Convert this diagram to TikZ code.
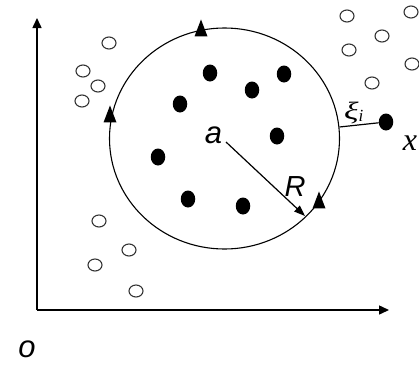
\documentclass[tikz,border=0pt]{standalone}
\usepackage{fontspec}
\setmainfont{Liberation Sans}
\newfontfamily\seriffam{Liberation Serif}
\usetikzlibrary{arrows.meta,shapes.geometric}
\begin{document}
\begin{tikzpicture}[x=1pt,y=-1pt,
  fdot/.style={ellipse,fill=black,inner sep=0pt,minimum width=14.5pt,minimum height=17pt},
  odot/.style={ellipse,draw=black!80,line width=1.1pt,inner sep=0pt,minimum width=14pt,minimum height=12pt},
  tri/.style={isosceles triangle,isosceles triangle stretches=true,shape border rotate=90,fill=black,inner sep=0pt,minimum width=13pt,minimum height=17pt},
  lbl/.style={font=\fontsize{31}{31}\selectfont\itshape,inner sep=0pt,anchor=base},
  axis/.style={line width=1.5pt,-{Triangle[length=10pt,width=9pt]}}]
\useasboundingbox (0,0) rectangle (419,364);
% axes
\coordinate (O) at (37,310);
\coordinate (ytop) at (37,18);
\coordinate (xend) at (389,310);
\draw[axis] (O) -- (ytop);
\draw[axis] (O) -- (xend);
% circle
\coordinate (c) at (224.5,138.5);
\draw[line width=1.1pt] (c) ellipse [x radius=115, y radius=110.5];
% triangles
\node[tri] (t1) at (201,32) {};
\node[tri] (t2) at (110,118) {};
\node[tri] (t3) at (319,204) {};
% filled dots
\node[fdot] (d1) at (210,73) {};
\node[fdot] (d2) at (284,74) {};
\node[fdot] (d3) at (180,104) {};
\node[fdot] (d4) at (252,90) {};
\node[fdot] (d5) at (277,136) {};
\node[fdot] (d6) at (158,157) {};
\node[fdot] (d7) at (188,199) {};
\node[fdot] (d8) at (243,206) {};
\node[fdot] (xd) at (386,122) {};
% open dots
\node[odot] (o1) at (109,43) {};
\node[odot] (o2) at (83,71) {};
\node[odot] (o3) at (98,86) {};
\node[odot] (o4) at (82,101) {};
\node[odot] (o5) at (347,16) {};
\node[odot] (o6) at (411,12) {};
\node[odot] (o7) at (382,36) {};
\node[odot] (o8) at (349,50) {};
\node[odot] (o9) at (412,64) {};
\node[odot] (o10) at (372,83) {};
\node[odot] (o11) at (99,221) {};
\node[odot] (o12) at (129,250) {};
\node[odot] (o13) at (95,265) {};
\node[odot] (o14) at (136,291) {};
% radius arrow
\coordinate (rs) at (226,142);
\coordinate (re) at (305,216);
\draw[line width=1.2pt,-{Triangle[length=11pt,width=8pt]}] (rs) -- (re);
% slack line
\coordinate (sl) at (339.5,127);
\draw[line width=1.2pt] (sl) -- (xd);
% labels
\node[lbl] (la) at (213.5,143) {a};
\node[lbl,font=\fontsize{29}{29}\selectfont\itshape] (lR) at (295,196) {R};
\node[inner sep=0pt,anchor=base,font=\fontsize{32}{32}\selectfont\seriffam\itshape] (lx) at (410,150) {x};
\node[inner sep=0pt,anchor=base west,font=\seriffam\itshape] (lxi) at (344,119)
  {\scalebox{1.35}[1]{\fontsize{25}{25}\selectfont ξ}\raisebox{-2pt}{\fontsize{17}{17}\selectfont i}};
\node[lbl] (lo) at (27,357) {o};
\end{tikzpicture}
\end{document}
